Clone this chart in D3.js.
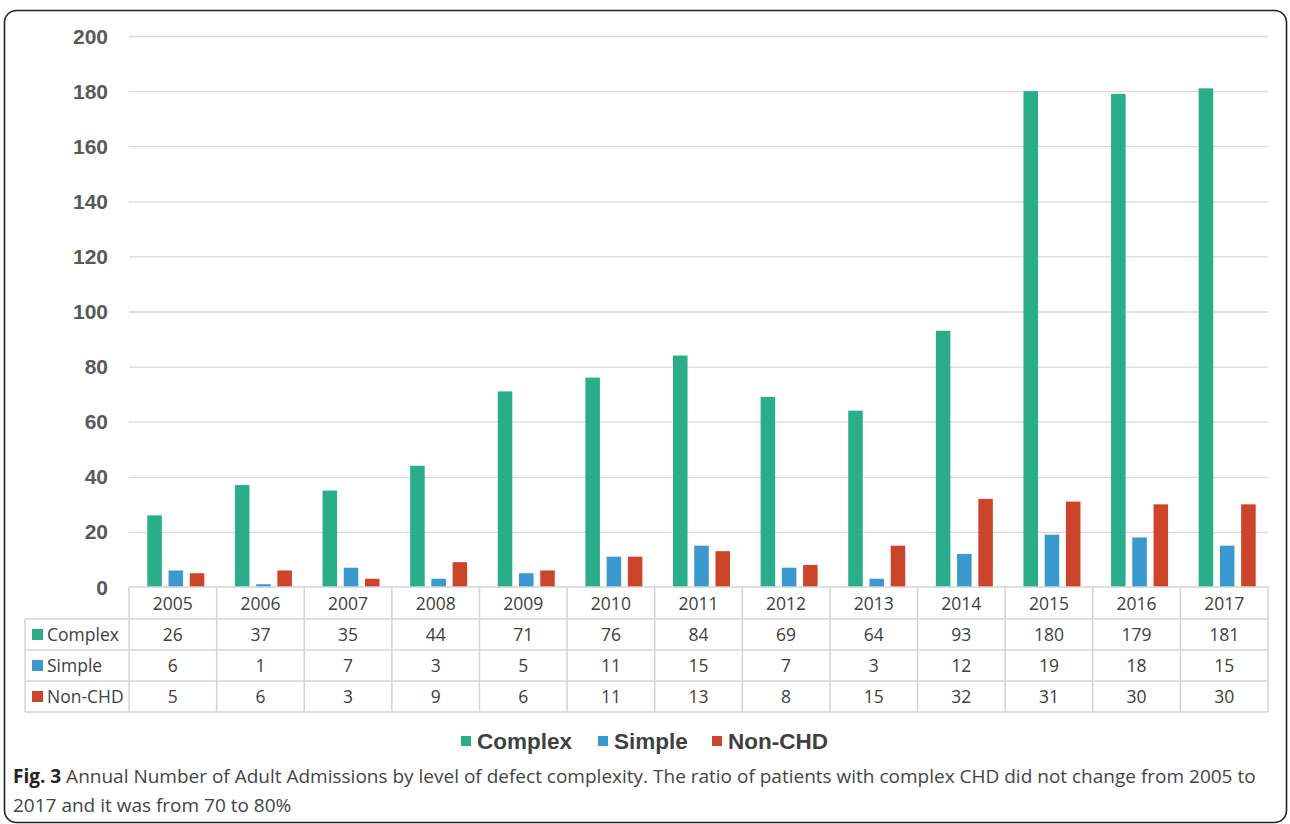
<!DOCTYPE html>
<html lang="en">
<head>
  <meta charset="UTF-8">
  <title>Annual Number of Adult Admissions</title>
  <script src="https://d3js.org/d3.v7.min.js"></script>
  <style>
    body { margin: 0; background: #fff; }
    .tick-label { font-family: "Liberation Sans", Arial, sans-serif; font-weight: bold; font-size: 21px; fill: #595959; }
    .cell-text { font-family: "Open Sans", sans-serif; font-size: 17.5px; fill: #404040; }
    .legend-text { font-family: "Liberation Sans", Arial, sans-serif; font-weight: bold; font-size: 22.5px; fill: #404040; }
    .caption { font-family: "Open Sans", sans-serif; font-size: 19px; fill: #444; }
  </style>
</head>
<body>
<div id="chart"></div>
<script>
const years = ["2005","2006","2007","2008","2009","2010","2011","2012","2013","2014","2015","2016","2017"];
const seriesNames = ["Complex", "Simple", "Non-CHD"];
const complexVals = [26, 37, 35, 44, 71, 76, 84, 69, 64, 93, 180, 179, 181];
const simpleVals = [6, 1, 7, 3, 5, 11, 15, 7, 3, 12, 19, 18, 15];
const nonChdVals = [5, 6, 3, 9, 6, 11, 13, 8, 15, 32, 31, 30, 30];
const yTicks = [0, 20, 40, 60, 80, 100, 120, 140, 160, 180, 200];
const colors = ["#2aae8a", "#3a9ad0", "#cc4429"];

const W = 1290, H = 824;
const svg = d3.select("#chart").append("svg")
  .attr("width", W).attr("height", H);

// outer rounded frame
svg.append("rect")
  .attr("x", 4.5).attr("y", 10.5)
  .attr("width", 1282).attr("height", 812)
  .attr("rx", 12)
  .attr("fill", "none").attr("stroke", "#222").attr("stroke-width", 1.6);

const plot = {left: 129, right: 1268, top: 36, bottom: 587};
const rows = [complexVals, simpleVals, nonChdVals];

const x0 = d3.scaleBand().domain(years).range([plot.left, plot.right]);
const y = d3.scaleLinear().domain([0, 200]).range([plot.bottom, plot.top]);

// gridlines
svg.append("g")
  .selectAll("line")
  .data(yTicks.filter(d => d > 0))
  .enter().append("line")
  .attr("x1", plot.left).attr("x2", plot.right)
  .attr("y1", d => y(d) + 0.5).attr("y2", d => y(d) + 0.5)
  .attr("stroke", "#d9d9d9").attr("stroke-width", 1.3);

// y tick labels
svg.append("g")
  .selectAll("text")
  .data(yTicks)
  .enter().append("text")
  .attr("class", "tick-label")
  .attr("x", 108)
  .attr("y", d => y(d))
  .attr("dy", "0.36em")
  .attr("text-anchor", "end")
  .text(d => d);

// bars
const barW = 13, barStep = 19;
const x1 = d3.scaleBand().domain(seriesNames)
  .range([0, barStep * 3]).paddingInner((barStep - barW) / barStep);
const barData = [];
years.forEach((yr, i) => {
  seriesNames.forEach((s, j) => barData.push({year: yr, key: s, value: rows[j][i], idx: j}));
});
svg.append("g")
  .selectAll("rect")
  .data(barData)
  .enter().append("rect")
  .attr("x", d => x0(d.year) + x0.bandwidth() / 2 - (barStep * 3 - (barStep - barW)) / 2 + x1(d.key))
  .attr("y", d => y(d.value))
  .attr("width", x1.bandwidth())
  .attr("height", d => y(0) - y(d.value))
  .attr("fill", d => colors[d.idx]);

// data table
const headerTop = 587, headerH = 32, rowH = 31;
const labelLeft = 25;
const tableBottom = headerTop + headerH + rowH * 3;
const grid = svg.append("g").attr("stroke", "#d4d4d4").attr("stroke-width", 1.5).attr("fill", "none");

// horizontal lines
grid.append("line").attr("x1", plot.left).attr("x2", plot.right).attr("y1", headerTop).attr("y2", headerTop);
[0, 1, 2, 3].forEach(r => {
  const yy = headerTop + headerH + rowH * r;
  grid.append("line").attr("x1", labelLeft).attr("x2", plot.right).attr("y1", yy).attr("y2", yy);
});
// vertical lines
grid.append("line").attr("x1", labelLeft).attr("x2", labelLeft)
  .attr("y1", headerTop + headerH).attr("y2", tableBottom);
years.concat(["end"]).forEach((yr, i) => {
  const xx = i < years.length ? x0(yr) : plot.right;
  grid.append("line").attr("x1", xx).attr("x2", xx).attr("y1", headerTop).attr("y2", tableBottom);
});

// header years
svg.append("g").selectAll("text")
  .data(years).enter().append("text")
  .attr("class", "cell-text")
  .attr("x", d => x0(d) + x0.bandwidth() / 2)
  .attr("y", headerTop + headerH / 2 + 1)
  .attr("dy", "0.35em")
  .attr("text-anchor", "middle")
  .text(d => d);

// row labels + values
seriesNames.forEach((s, j) => {
  const cy = headerTop + headerH + rowH * j + rowH / 2;
  svg.append("rect")
    .attr("x", 32).attr("y", cy - 5.5)
    .attr("width", 11).attr("height", 11)
    .attr("fill", colors[j]);
  svg.append("text")
    .attr("class", "cell-text")
    .attr("x", 47).attr("y", cy)
    .attr("dy", "0.35em")
    .text(s);
  svg.append("g").selectAll("text")
    .data(rows[j]).enter().append("text")
    .attr("class", "cell-text")
    .attr("x", (d, i) => x0(years[i]) + x0.bandwidth() / 2)
    .attr("y", cy)
    .attr("dy", "0.35em")
    .attr("text-anchor", "middle")
    .text(d => d);
});

// legend
const legendItems = [
  {name: "Complex", x: 461},
  {name: "Simple", x: 598},
  {name: "Non-CHD", x: 712}
];
const legend = svg.append("g").selectAll("g")
  .data(legendItems).enter().append("g")
  .attr("transform", d => "translate(" + d.x + ",741)");
legend.append("rect")
  .attr("x", 0).attr("y", -5).attr("width", 10).attr("height", 10)
  .attr("fill", (d, i) => colors[i]);
legend.append("text")
  .attr("class", "legend-text")
  .attr("x", 16).attr("y", 0).attr("dy", "0.36em")
  .text(d => d.name);

// caption
const cap1 = svg.append("text").attr("class", "caption").attr("x", 13).attr("y", 783);
cap1.append("tspan").attr("font-weight", "bold").attr("fill", "#222").text("Fig. 3");
cap1.append("tspan").text(" Annual Number of Adult Admissions by level of defect complexity. The ratio of patients with complex CHD did not change from 2005 to");
svg.append("text").attr("class", "caption").attr("x", 13).attr("y", 812)
  .text("2017 and it was from 70 to 80%");
</script>
</body>
</html>
